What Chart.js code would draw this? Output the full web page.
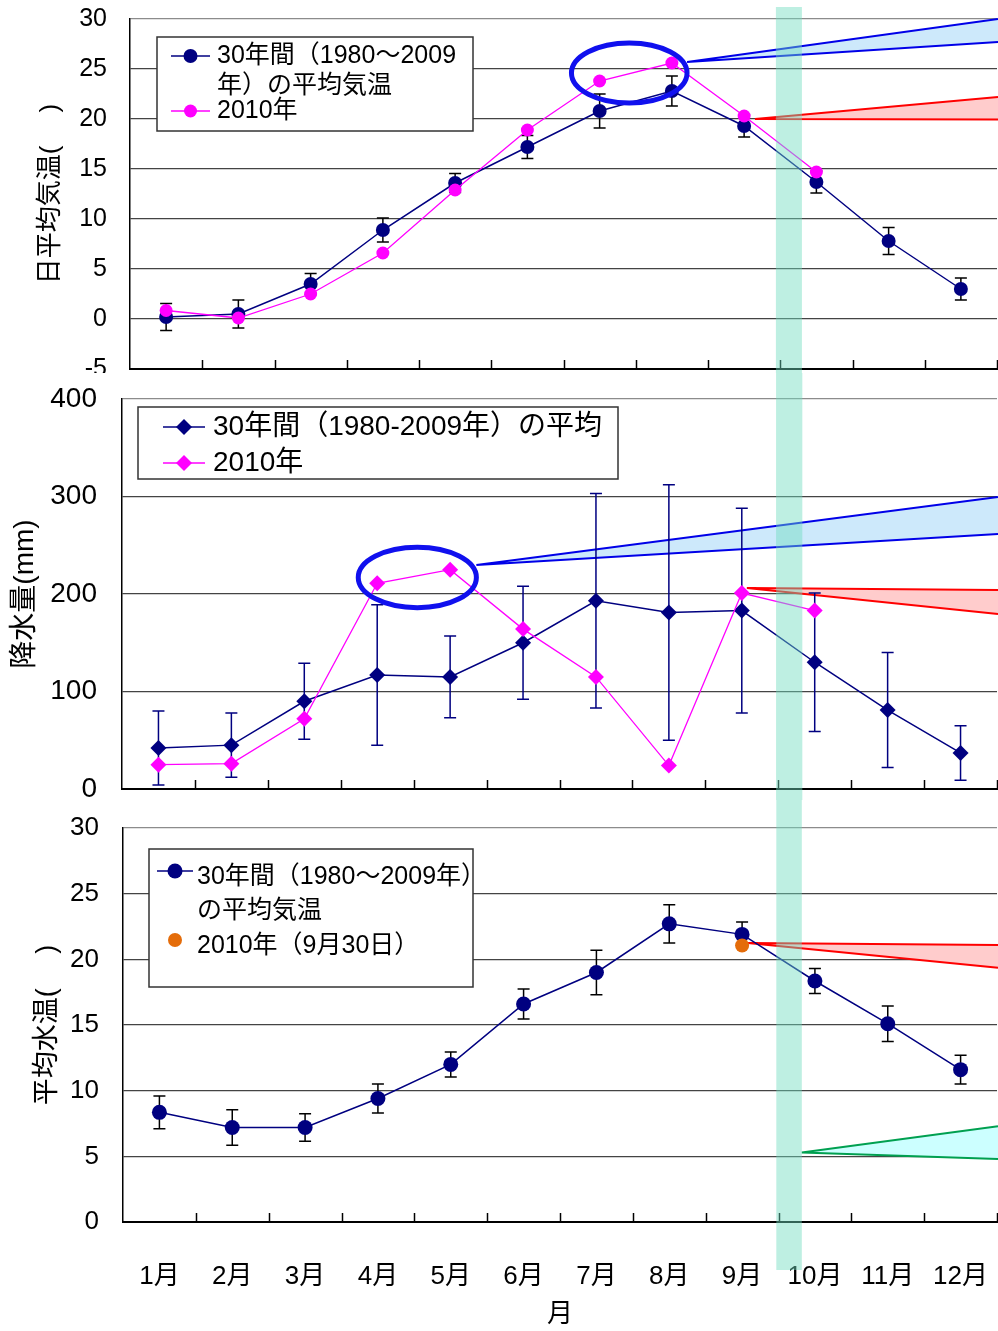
<!DOCTYPE html>
<html>
<head>
<meta charset="utf-8">
<script src="https://cdn.jsdelivr.net/npm/chart.js@4.4.1/dist/chart.umd.min.js"></script>
<style>
  body { margin: 0; background: #fff; }
  #wrap { position: relative; width: 998px; height: 1331px; }
  canvas { position: absolute; left: 0; }
</style>
</head>
<body>
<div id="wrap">
  <canvas id="c1" width="998" height="373" style="top:0px"></canvas>
  <canvas id="c2" width="998" height="427" style="top:373px"></canvas>
  <canvas id="c3" width="998" height="531" style="top:800px"></canvas>
</div>
<script>
const FONT = '"Liberation Sans", "Noto Sans CJK JP", sans-serif';
Chart.defaults.font.family = FONT;
Chart.defaults.font.size = 25;
Chart.defaults.color = '#000';

// data
const months = ['1月', '2月', '3月', '4月', '5月', '6月', '7月', '8月', '9月', '10月', '11月', '12月'];

const airAvg  = [0.2, 0.5, 3.5, 8.9, 13.6, 17.2, 20.8, 22.8, 19.3, 13.7, 7.8, 3.0];
const airSd   = [1.35, 1.4, 1.05, 1.2, 0.95, 1.15, 1.7, 1.5, 1.1, 1.1, 1.35, 1.1];
const air2010 = [0.85, 0.1, 2.5, 6.6, 12.9, 18.9, 23.8, 25.6, 20.3, 14.7, null, null];

const rainAvg  = [42, 45, 90, 117, 115, 150, 193, 181, 183, 130, 81, 37];
const rainSd   = [38, 33, 39, 72, 42, 58, 110, 131, 105, 71, 59, 28];
const rain2010 = [25, 26, 72, 211, 225, 164, 115, 24, 201, 183, null, null];

const waterAvg  = [8.35, 7.2, 7.2, 9.4, 12.0, 16.6, 19.0, 22.7, 21.9, 18.35, 15.1, 11.6];
const waterSd   = [1.25, 1.35, 1.05, 1.1, 0.95, 1.15, 1.7, 1.45, 0.95, 0.95, 1.35, 1.1];
const water2010 = [null, null, null, null, null, null, null, null, 21.05, null, null, null];

// axis ranges: min, max, step
const airAxis = [-5, 30, 5];
const rainAxis = [0, 400, 100];
const waterAxis = [0, 30, 5];

const NAVY = '#000080', PINK = '#FF00FF', ORANGE = '#E46C0A';

function marker(ctx, style, x, y, r, color) {
  ctx.fillStyle = color;
  ctx.beginPath();
  if (style === 'rectRot') {
    ctx.moveTo(x, y - r); ctx.lineTo(x + r, y); ctx.lineTo(x, y + r); ctx.lineTo(x - r, y);
    ctx.closePath();
  } else {
    ctx.arc(x, y, r, 0, Math.PI * 2);
  }
  ctx.fill();
}

// error bars, callouts, legend box, band
function makeDeco(cfg) {
  return {
    id: 'deco',
    beforeDatasetsDraw(chart) {
      const ctx = chart.ctx, xs = chart.scales.x, ys = chart.scales.y;
      const px = v => xs.getPixelForValue(v), py = v => ys.getPixelForValue(v);
      (cfg.wedges || []).forEach(w => {
        const ax = px(w.from[0]), ay = py(w.from[1]), rx = chart.width;
        ctx.save();
        ctx.beginPath();
        ctx.moveTo(ax, ay); ctx.lineTo(rx, py(w.to[0])); ctx.lineTo(rx, py(w.to[1]));
        ctx.closePath();
        ctx.fillStyle = w.fill; ctx.fill();
        ctx.beginPath();
        ctx.moveTo(rx, py(w.to[0])); ctx.lineTo(ax, ay); ctx.lineTo(rx, py(w.to[1]));
        ctx.strokeStyle = w.line; ctx.lineWidth = 2; ctx.stroke();
        ctx.restore();
      });
      chart.data.datasets.forEach(ds => {
        if (!ds.errors) return;
        ctx.save();
        ctx.strokeStyle = ds.errorColor; ctx.lineWidth = 1.5;
        ds.data.forEach((v, i) => {
          if (v == null) return;
          const x = px(i), y1 = py(v + ds.errors[i]), y2 = py(v - ds.errors[i]);
          ctx.beginPath();
          ctx.moveTo(x, y1); ctx.lineTo(x, y2);
          ctx.moveTo(x - 6, y1); ctx.lineTo(x + 6, y1);
          ctx.moveTo(x - 6, y2); ctx.lineTo(x + 6, y2);
          ctx.stroke();
        });
        ctx.restore();
      });
    },
    afterDatasetsDraw(chart) {
      const ctx = chart.ctx, a = chart.chartArea, xs = chart.scales.x, ys = chart.scales.y;
      const px = v => xs.getPixelForValue(v), py = v => ys.getPixelForValue(v);
      ctx.save();
      if (cfg.ring) {
        const r = cfg.ring, cx = px(r.x), cy = py(r.y);
        ctx.beginPath();
        ctx.ellipse(cx, cy, px(r.x + r.dx) - cx, cy - py(r.y + r.dy), 0, 0, Math.PI * 2);
        ctx.strokeStyle = '#1010EE'; ctx.lineWidth = 5; ctx.stroke();
      }
      // legend
      const L = cfg.legend;
      ctx.fillStyle = '#fff';
      ctx.fillRect(L.box[0], L.box[1], L.box[2], L.box[3]);
      ctx.strokeStyle = '#333'; ctx.lineWidth = 1.5;
      ctx.strokeRect(L.box[0], L.box[1], L.box[2], L.box[3]);
      ctx.font = L.size + 'px ' + FONT;
      ctx.textBaseline = 'middle';
      L.items.forEach(it => {
        const ds = chart.data.datasets[it.ds];
        if (ds.showLine !== false) {
          ctx.beginPath();
          ctx.moveTo(L.line[0], it.y); ctx.lineTo(L.line[1], it.y);
          ctx.strokeStyle = ds.borderColor; ctx.lineWidth = ds.borderWidth; ctx.stroke();
        }
        marker(ctx, ds.pointStyle, (L.line[0] + L.line[1]) / 2, it.y, ds.pointRadius, ds.backgroundColor);
        ctx.fillStyle = '#000';
        it.text.forEach((t, k) => ctx.fillText(t, L.textX, it.y + it.dy + k * L.gap));
      });
      // small inward ticks on the month axis
      ctx.strokeStyle = '#000'; ctx.lineWidth = 1.5;
      months.forEach((m, i) => {
        const x = Math.round(px(i + 0.5)) + 0.5;
        ctx.beginPath(); ctx.moveTo(x, a.bottom); ctx.lineTo(x, a.bottom - 9); ctx.stroke();
      });
      // date band
      const b = cfg.band;
      ctx.fillStyle = 'rgba(110,220,190,0.45)';
      ctx.fillRect(px(b.from), b.top, px(b.to) - px(b.from), b.bottom - b.top);
      ctx.restore();
    }
  };
}

function line(label, data, color, style, radius, width, order, errors, errorColor) {
  return {
    label, data, errors, errorColor, order,
    borderColor: color, backgroundColor: color,
    pointBackgroundColor: color, pointBorderColor: color,
    borderWidth: width, pointStyle: style, pointRadius: radius, pointHoverRadius: radius,
    pointBorderWidth: 0
  };
}

function panel(id, o) {
  return new Chart(document.getElementById(id), {
    type: 'line',
    data: { labels: months, datasets: o.datasets },
    options: {
      responsive: false, animation: false, devicePixelRatio: 1,
      layout: { padding: o.pad, autoPadding: false },
      plugins: { legend: { display: false }, tooltip: { enabled: false } },
      scales: {
        x: {
          offset: true,
          grid: { display: false, offset: true },
          border: { display: true, color: '#000', width: 2 },
          ticks: { display: !!o.xTitle, padding: 31, maxRotation: 0, autoSkip: false, font: { size: 26 } },
          title: { display: !!o.xTitle, text: o.xTitle, font: { size: 26 }, padding: { top: 0, bottom: 1 } },
          afterFit(s) { s.height = o.xH; s.paddingLeft = 0; s.paddingRight = 0; }
        },
        y: {
          min: o.axis[0], max: o.axis[1],
          ticks: { stepSize: o.axis[2], padding: o.tickPad, font: { size: o.tickSize } },
          grid: {
            drawTicks: false, lineWidth: 1.2,
            color: c => c.tick && c.tick.value === o.axis[1] ? '#8c8c8c' : '#444'
          },
          border: { display: true, color: '#000', width: 1.5 },
          title: { display: true, text: o.yTitle, font: { size: o.titleSize }, padding: { top: o.titlePad, bottom: 0 } },
          afterFit(s) { s.width = o.yW; s.paddingTop = 0; s.paddingBottom = 0; }
        }
      }
    },
    plugins: [makeDeco(o.deco)]
  });
}

// 日平均気温
panel('c1', {
  axis: airAxis, yW: 130, tickPad: 23, tickSize: 25, titleSize: 26, titlePad: 35, xH: 0,
  pad: { left: 0, right: 1, top: 19, bottom: 4 },
  yTitle: '日平均気温(　 )',
  datasets: [
    line('30年間（1980～2009年）の平均気温', airAvg, NAVY, 'circle', 7, 1.5, 1, airSd, '#000'),
    line('2010年', air2010, PINK, 'circle', 6.5, 1.3, 0)
  ],
  deco: {
    ring: { x: 6.41, y: 24.6, dx: 0.8, dy: 3.0 },
    wedges: [
      { from: [7.21, 25.7], to: [30, 27.7], fill: '#CDE9FB', line: '#0000E8' },
      { from: [8.15, 20.0], to: [22.2, 19.95], fill: '#FFCCCC', line: '#FF0000' }
    ],
    legend: {
      box: [157, 37, 316, 94], line: [171, 210], textX: 217, size: 25, gap: 30,
      items: [
        { ds: 0, y: 56, dy: 0, text: ['30年間（1980～2009', '年）の平均気温'] },
        { ds: 1, y: 111, dy: 0, text: ['2010年'] }
      ]
    },
    band: { from: 8.44, to: 8.80, top: 7, bottom: 373 }
  }
});

// 降水量
panel('c2', {
  axis: rainAxis, yW: 122, tickPad: 25, tickSize: 28, titleSize: 28, titlePad: 8, xH: 0,
  pad: { left: 0, right: 1, top: 26, bottom: 11 },
  yTitle: '降水量(mm)',
  datasets: [
    line('30年間（1980-2009年）の平均', rainAvg, NAVY, 'rectRot', 8, 1.5, 1, rainSd, NAVY),
    line('2010年', rain2010, PINK, 'rectRot', 8, 1.3, 0)
  ],
  deco: {
    ring: { x: 3.55, y: 217, dx: 0.81, dy: 31 },
    wedges: [
      { from: [4.36, 229.7], to: [299.5, 261.5], fill: '#CDE9FB', line: '#0000E8' },
      { from: [8.07, 206.2], to: [204.1, 179.5], fill: '#FFCCCC', line: '#FF0000' }
    ],
    legend: {
      box: [138, 34, 480, 72], line: [163, 205], textX: 213, size: 28, gap: 30,
      items: [
        { ds: 0, y: 54, dy: 0, text: ['30年間（1980-2009年）の平均'] },
        { ds: 1, y: 90, dy: 0, text: ['2010年'] }
      ]
    },
    band: { from: 8.47, to: 8.83, top: 0, bottom: 427 }
  }
});

// 平均水温
panel('c3', {
  axis: waterAxis, yW: 123, tickPad: 24, tickSize: 26, titleSize: 27, titlePad: 31, xH: 109,
  pad: { left: 0, right: 1, top: 28, bottom: 0 },
  yTitle: '平均水温(　 )', xTitle: '月',
  datasets: [
    line('30年間（1980～2009年）の平均気温', waterAvg, NAVY, 'circle', 7.5, 1.5, 1, waterSd, '#000'),
    Object.assign(line('2010年（9月30日）', water2010, ORANGE, 'circle', 7, 0, 0), { showLine: false })
  ],
  deco: {
    wedges: [
      { from: [8.08, 21.25], to: [21.1, 19.35], fill: '#FFCCCC', line: '#FF0000' },
      { from: [8.82, 5.3], to: [7.3, 4.8], fill: '#CCFFFF', line: '#00A050' }
    ],
    legend: {
      box: [149, 49, 324, 138], line: [157, 193], textX: 197, size: 25, gap: 34,
      items: [
        { ds: 0, y: 71, dy: 6, text: ['30年間（1980～2009年）', 'の平均気温'] },
        { ds: 1, y: 140, dy: 6, text: ['2010年（9月30日）'] }
      ]
    },
    band: { from: 8.47, to: 8.82, top: 0, bottom: 470 }
  }
});
</script>
</body>
</html>
